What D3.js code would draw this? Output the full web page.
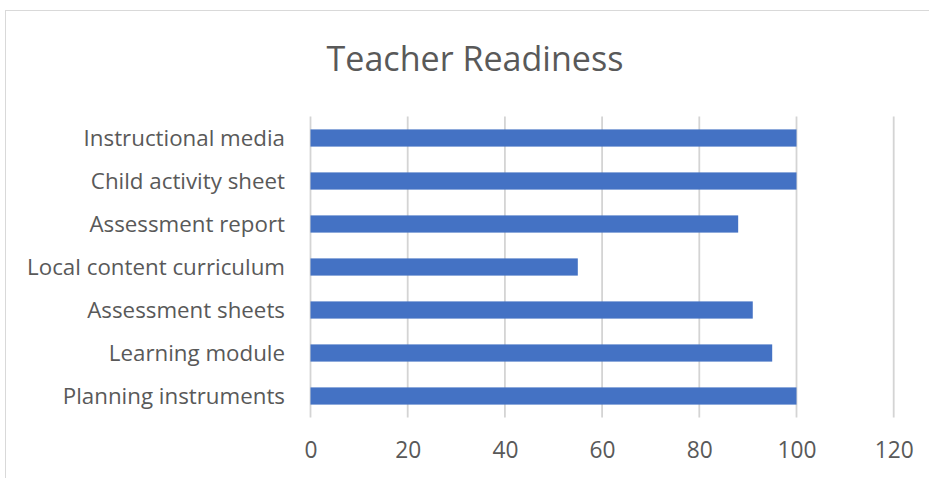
<!DOCTYPE html>
<html>
<head>
<meta charset="utf-8">
<script src="https://cdn.jsdelivr.net/npm/d3@7"></script>
<style>
  html, body { margin: 0; padding: 0; background: #fff; }
  svg { display: block; }
  text { font-family: "Open Sans", sans-serif; fill: #595959; }
</style>
</head>
<body>
<svg id="chart" width="929" height="478"></svg>
<script>
const categories = [
  "Instructional media",
  "Child activity sheet",
  "Assessment report",
  "Local content curriculum",
  "Assessment sheets",
  "Learning module",
  "Planning instruments"
];
const values = [100, 100, 88, 55, 91, 95, 100];
const xTicks = [0, 20, 40, 60, 80, 100, 120];
const title = "Teacher Readiness";

const W = 929, H = 478;
const svg = d3.select("#chart");

// chart frame
svg.append("rect")
  .attr("x", 5.5).attr("y", 10.5)
  .attr("width", W + 10).attr("height", H + 10)
  .attr("fill", "#fff").attr("stroke", "#d9d9d9").attr("stroke-width", 1);

const plot = { left: 310.5, right: 796.5, top: 116.5, bottom: 417.5 };

const x = d3.scaleLinear().domain([0, 100]).range([plot.left, plot.right]);
const y = d3.scaleBand().domain(categories).range([plot.top, plot.bottom]).paddingInner(0.6).paddingOuter(0.3);

// gridlines
const grid = svg.append("g").attr("class", "grid");
grid.selectAll("line").data(xTicks).join("line")
  .attr("x1", d => x(d)).attr("x2", d => x(d))
  .attr("y1", plot.top).attr("y2", plot.bottom)
  .attr("stroke", "#d4d4d4").attr("stroke-width", 1.8);

// bars
svg.append("g").selectAll("rect").data(categories).join("rect")
  .attr("x", x(0))
  .attr("y", d => y(d))
  .attr("width", (d, i) => x(values[i]) - x(0))
  .attr("height", y.bandwidth())
  .attr("fill", "#4472c4");

// x axis labels
const xAxis = d3.axisBottom(x).tickValues(xTicks).tickSize(0).tickPadding(0);
const gx = svg.append("g").attr("transform", `translate(0,${plot.bottom})`).call(xAxis);
gx.select(".domain").remove();
gx.selectAll("text").attr("dy", null).attr("y", 40).style("font-size", "20px").attr("fill", "#595959");

// y axis labels
const yAxis = d3.axisLeft(y).tickSize(0).tickPadding(0);
const gy = svg.append("g").attr("transform", `translate(285,0)`).call(yAxis);
gy.select(".domain").remove();
gy.selectAll("text").attr("dy", "0.36em").attr("x", 0).style("font-size", "20px").attr("fill", "#595959");

// fit label font to reference widths
function fitGroup(sel, target, base) {
  let maxW = 0;
  sel.each(function() { maxW = Math.max(maxW, this.getComputedTextLength()); });
  const fs = base * target / maxW;
  sel.style("font-size", fs + "px");
  return fs;
}
fitGroup(gy.selectAll("text"), 258, 20);
fitGroup(gx.selectAll("text").filter(d => d === 120), 39, 20);
const tfs = gx.selectAll("text").filter(d => d === 120).style("font-size");
gx.selectAll("text").style("font-size", tfs);

// title
const t = svg.append("text")
  .attr("x", 475).attr("y", 71)
  .attr("text-anchor", "middle")
  .style("font-size", "32px")
  .text(title);
fitGroup(t, 297, 32);
</script>
</body>
</html>
